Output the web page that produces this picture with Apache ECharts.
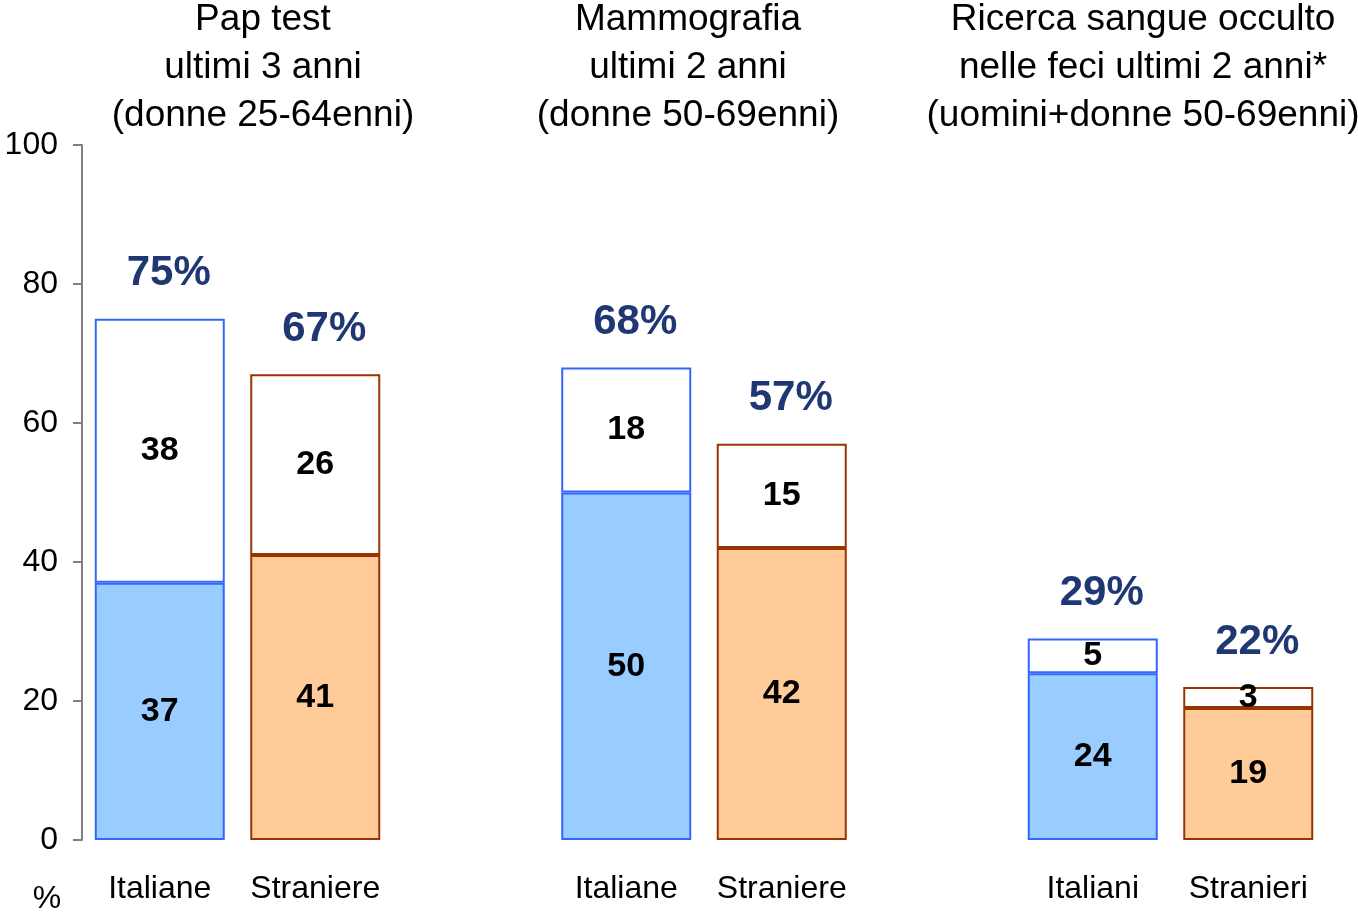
<!DOCTYPE html>
<html>
<head>
<meta charset="utf-8">
<script src="https://cdn.jsdelivr.net/npm/echarts@6/dist/echarts.min.js"></script>
<style>html,body{margin:0;padding:0;background:#fff;}#c{width:1358px;height:918px;}</style>
</head>
<body>
<div id="c"></div>
<script>
const categories = ['Italiane','Straniere','','Italiane','Straniere','','Italiani','Stranieri'];
const baseValues = [37, 41, null, 50, 42, null, 24, 19];
const extraValues = [38, 26, null, 18, 15, null, 5, 3];
const totalValues = [75, 67, null, 68, 57, null, 29, 22];
const groupTitles = [
  'Pap test\nultimi 3 anni\n(donne 25-64enni)',
  'Mammografia\nultimi 2 anni\n(donne 50-69enni)',
  'Ricerca sangue occulto\nnelle feci ultimi 2 anni*\n(uomini+donne 50-69enni)'
];
const yTicks = [0, 20, 40, 60, 80, 100];

const FONT = "'Liberation Sans', Arial, sans-serif";
const blue = {fill:'#99CCFF', border:'#3366FF'};
const orange = {fill:'#FFCC99', border:'#993300'};
function pal(i){ return (i % 3 === 0) ? blue : orange; }

const baseData = baseValues.map((v,i)=> v == null ? '-' : {value:v, itemStyle:{color:pal(i).fill, borderColor:pal(i).border}});
const extraData = extraValues.map((v,i)=> v == null ? '-' : {value:v, itemStyle:{color:'#FFFFFF', borderColor:pal(i).border}});
const totalData = totalValues.map(v => v == null ? '-' : v);

const titleX = [263, 688, 1143];

const chart = echarts.init(document.getElementById('c'), null, {renderer:'canvas'});
chart.setOption({
  animation:false,
  backgroundColor:'#fff',
  textStyle:{fontFamily:FONT},
  grid:{left:82, right:32, top:145, bottom:78},
  xAxis:{
    type:'category', data:categories,
    axisLine:{show:false}, axisTick:{show:false},
    axisLabel:{color:'#000', fontSize:32, fontFamily:FONT, margin:33, interval:0}
  },
  yAxis:{
    type:'value', min:0, max:100, interval:20,
    axisLine:{show:true, lineStyle:{color:'#808080', width:2}},
    axisTick:{show:true, length:9, lineStyle:{color:'#808080', width:2}},
    splitLine:{show:false},
    axisLabel:{color:'#000', fontSize:32, fontFamily:FONT, margin:24,
      formatter: v => yTicks.includes(v) ? String(v) : ''}
  },
  graphic: groupTitles.map((t,i)=>({
    type:'text', x:titleX[i], y:-4,
    style:{text:t, fill:'#000', font:'37px ' + FONT, textAlign:'center', textVerticalAlign:'top', lineHeight:48}
  })).concat([{
    type:'text', x:47, y:899,
    style:{text:'%', fill:'#000', font:'32px ' + FONT, textAlign:'center', textVerticalAlign:'middle'}
  }]),
  series:[
    {type:'bar', stack:'s', barWidth:130, data:baseData,
      itemStyle:{borderWidth:2},
      label:{show:true, position:'inside', color:'#000', fontWeight:'bold', fontSize:34, fontFamily:FONT}},
    {type:'bar', stack:'s', barWidth:130, data:extraData,
      itemStyle:{borderWidth:2},
      label:{show:true, position:'inside', color:'#000', fontWeight:'bold', fontSize:34, fontFamily:FONT}},
    {type:'scatter', data:totalData, symbolSize:0, silent:true, z:10,
      itemStyle:{opacity:1},
      label:{show:true, position:'inside', offset:[9,-45], formatter: p => p.value + '%',
        color:'#1F3773', fontWeight:'bold', fontSize:42, fontFamily:FONT}}
  ]
});
</script>
</body>
</html>
